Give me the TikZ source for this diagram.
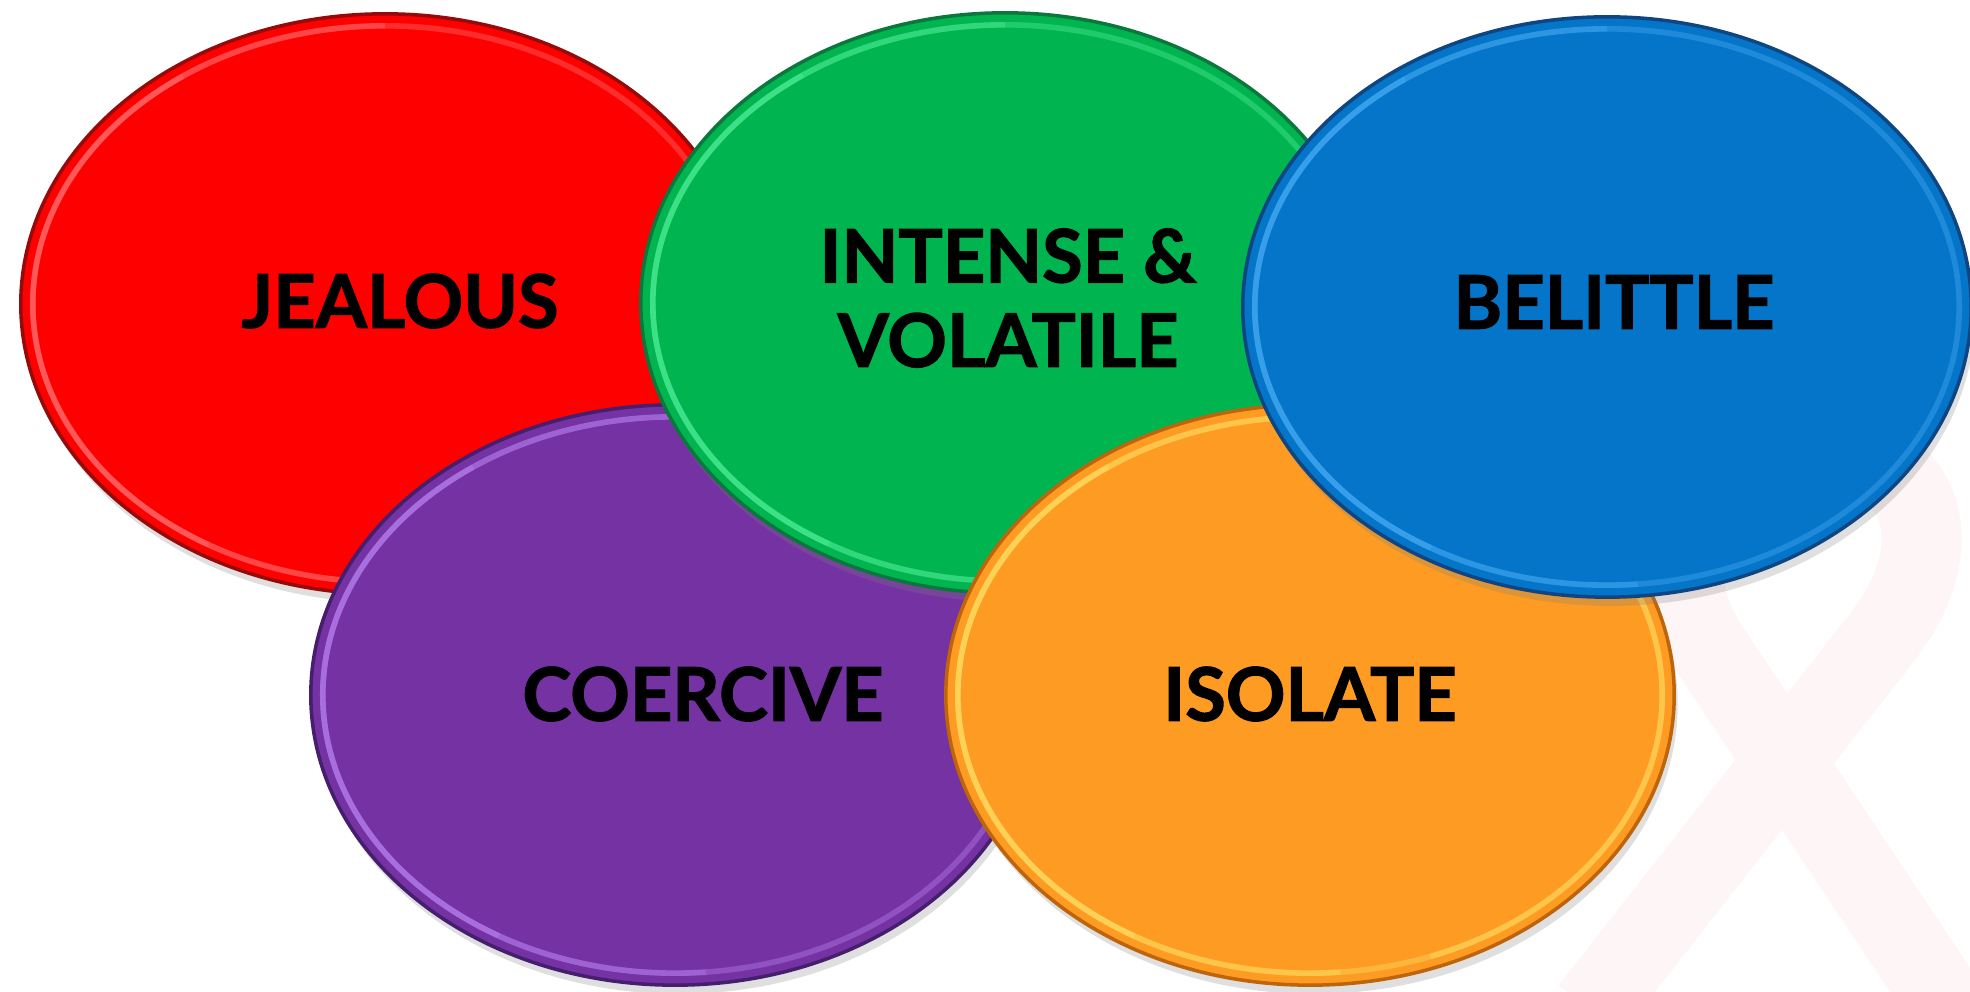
\documentclass[tikz,border=0pt]{standalone}
\usepackage{fontspec}
\setmainfont{Lato}[BoldFeatures={FakeBold=1.6}]
\usepackage{tikz}
\usetikzlibrary{shapes, shadows}
\definecolor{rojo}{RGB}{254, 0, 0}
\definecolor{rojoOsc}{RGB}{150, 10, 10}
\definecolor{rojoCla}{RGB}{255, 130, 130}
\definecolor{verde}{RGB}{0, 181, 80}
\definecolor{verdeOsc}{RGB}{10, 120, 60}
\definecolor{verdeCla}{RGB}{90, 245, 160}
\definecolor{azul}{RGB}{4, 117, 200}
\definecolor{azulOsc}{RGB}{15, 70, 130}
\definecolor{azulCla}{RGB}{80, 180, 250}
\definecolor{morado}{RGB}{117, 50, 163}
\definecolor{moradoOsc}{RGB}{70, 30, 110}
\definecolor{moradoCla}{RGB}{195, 140, 250}
\definecolor{naranja}{RGB}{253, 155, 34}
\definecolor{naranjaOsc}{RGB}{190, 100, 10}
\definecolor{naranjaCla}{RGB}{255, 235, 110}
\definecolor{rosa}{RGB}{254, 245, 246}
\tikzset{
    blob/.style={draw, ellipse, minimum width=7.28cm, minimum height=5.8cm, inner sep=0pt, line width=1pt,
        drop shadow={shadow xshift=1pt, shadow yshift=-2.5pt, opacity=0.25}},
    rim/.style={line width=1.6pt, opacity=0.35},
    rimArc/.style={line width=1.6pt, opacity=0.3},
    lbl/.style={text=black, align=center, inner sep=0pt, font=\bfseries\fontsize{21}{24}\selectfont},
    ribbon/.style={rosa, line width=0.8cm, line join=round},
}
% bevel: faint ring plus brighter left side
\newcommand{\bevel}[2]{
    \draw[rim, #2] (#1.center) ellipse [x radius=3.52cm, y radius=2.78cm];
    \draw[rimArc, #2] ([shift={(90:3.52cm and 2.78cm)}]#1.center) arc[start angle=90, end angle=275, x radius=3.52cm, y radius=2.78cm];
    \draw[rimArc, #2] ([shift={(125:3.52cm and 2.78cm)}]#1.center) arc[start angle=125, end angle=240, x radius=3.52cm, y radius=2.78cm];
}
\begin{document}
\begin{tikzpicture}[x=0.01cm, y=-0.01cm]
    \useasboundingbox (0,0) rectangle (1970,992);

    % faint ribbon in the back
    \draw[ribbon] (1590,1010) -- (1880,640) .. controls (1960,540) and (1920,440) .. (1800,450)
        .. controls (1690,460) and (1650,560) .. (1710,650) -- (1950,1010);

    \node[blob, fill=rojo, draw=rojoOsc] (jealous) at (385,304) {};
    \bevel{jealous}{rojoCla}
    \node[lbl] (jealousTxt) at (400,301) {JEALOUS};

    \node[blob, fill=morado, draw=moradoOsc] (coercive) at (675,695) {};
    \bevel{coercive}{moradoCla}
    \node[lbl] (coerciveTxt) at (703,694) {COERCIVE};

    \node[blob, fill=verde, draw=verdeOsc] (intense) at (1005,303) {};
    \bevel{intense}{verdeCla}
    \node[lbl] (intenseTxt) at (1008,298) {INTENSE \&\\VOLATILE};

    \node[blob, fill=naranja, draw=naranjaOsc] (isolate) at (1310,695) {};
    \bevel{isolate}{naranjaCla}
    \draw[rimArc, naranjaCla] ([shift={(-70:3.52cm and 2.78cm)}]isolate.center) arc[start angle=-70, end angle=35, x radius=3.52cm, y radius=2.78cm];
    \node[lbl] (isolateTxt) at (1310,694) {ISOLATE};

    \node[blob, fill=azul, draw=azulOsc] (belittle) at (1607,307) {};
    \bevel{belittle}{azulCla}
    \node[lbl] (belittleTxt) at (1614,302) {BELITTLE};
\end{tikzpicture}
\end{document}
